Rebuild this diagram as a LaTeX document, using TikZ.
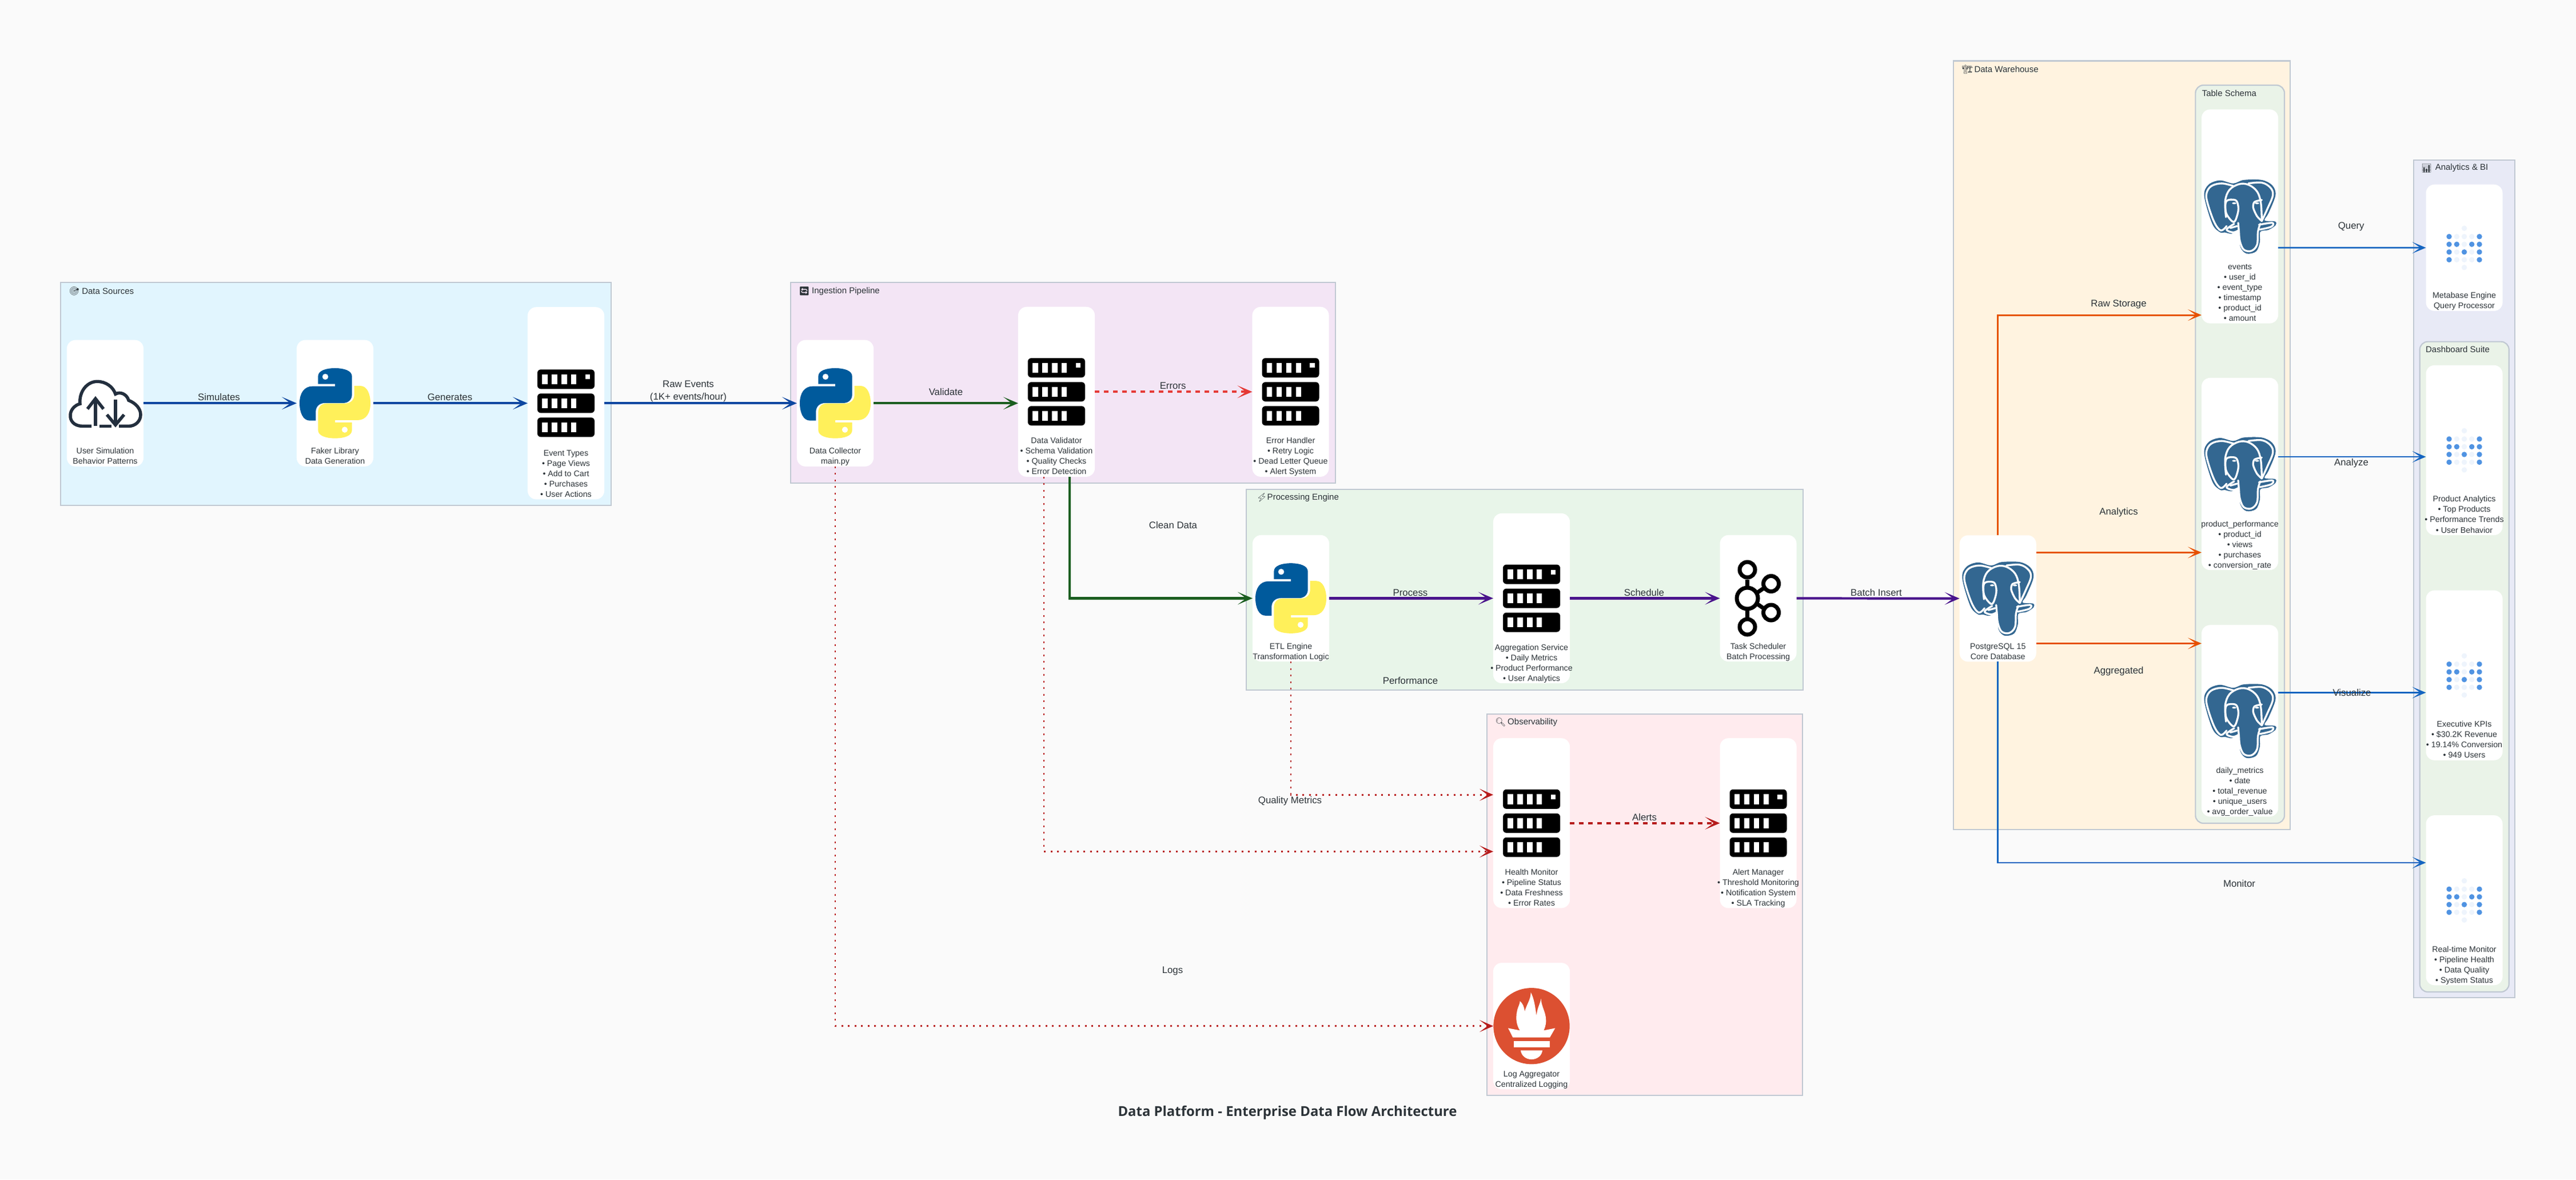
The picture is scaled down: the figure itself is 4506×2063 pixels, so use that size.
\documentclass[tikz,border=0pt]{standalone}
\usepackage{fontspec}
\setmainfont{Liberation Sans}
\newfontfamily\emojifont{Noto Emoji}
\newfontfamily\titlefont{Open Sans}
\usetikzlibrary{arrows.meta}
\definecolor{pagebg}{HTML}{FAFAFA}
\definecolor{srcbg}{HTML}{E1F5FE}
\definecolor{ingestbg}{HTML}{F3E5F5}
\definecolor{procbg}{HTML}{E8F5E9}
\definecolor{obsbg}{HTML}{FFEBEE}
\definecolor{dwhbg}{HTML}{FFF3E0}
\definecolor{bibg}{HTML}{E8EAF6}
\definecolor{innerbg}{HTML}{EAF3E8}
\definecolor{groupline}{HTML}{C0C8D2}
\definecolor{inktext}{HTML}{2C3338}
\definecolor{flowblue}{HTML}{0D47A1}
\definecolor{flowgreen}{HTML}{1B5E20}
\definecolor{flowpurple}{HTML}{4A148C}
\definecolor{flowred}{HTML}{E53935}
\definecolor{flowdark}{HTML}{B71C1C}
\definecolor{floworange}{HTML}{E65100}
\definecolor{flowquery}{HTML}{1565C0}
\definecolor{pyblue}{HTML}{005A9C}
\definecolor{pyyellow}{HTML}{FFF05A}
\definecolor{pgblue}{HTML}{336791}
\definecolor{promred}{HTML}{DC5031}
\definecolor{mbdark}{HTML}{5093E2}
\definecolor{mbpale}{HTML}{EEF4FC}
\definecolor{cloudink}{HTML}{232F3E}
\newcommand\cardfont{\fontsize{4.05pt}{5.12pt}\selectfont}
\newcommand\flowfont{\fontsize{4.78pt}{6.35pt}\selectfont}
\newcommand\groupfont{\fontsize{4.27pt}{5.2pt}\selectfont}
\tikzset{
  groupbox/.style={draw=groupline, line width=0.022cm},
  innergroup/.style={draw=groupline, line width=0.022cm, fill=innerbg, rounded corners=0.14cm},
  card/.style={rectangle, rounded corners=0.15cm, fill=white, inner sep=0pt, outer sep=0pt, minimum width=1.34cm},
  cardtext/.style={anchor=base, align=center, inner sep=0pt, font=\cardfont, text=inktext},
  flowlabel/.style={align=center, inner sep=0pt, yshift=-0.015cm, font=\flowfont, text=inktext},
  grouptitle/.style={anchor=west, inner sep=0pt, font=\groupfont, text=inktext},
  bigtip/.style={-{Stealth[length=0.26cm,width=0.22cm,inset=0.15cm]}},
  thickflow/.style={bigtip, line width=0.042cm},
  thinflow/.style={-{Stealth[length=0.24cm,width=0.2cm,inset=0.14cm]}, line width=0.028cm},
  dashflow/.style={bigtip, line width=0.042cm, dash pattern=on 0.08cm off 0.08cm},
  dotflow/.style={-{Stealth[length=0.24cm,width=0.21cm,inset=0.14cm]}, draw=flowdark, line width=0.028cm, dash pattern=on 0.03cm off 0.085cm},
  serverpic/.pic={
    \fill[rounded corners=0.06cm] (-50,-59) rectangle (50,-25);
    \fill[rounded corners=0.06cm] (-50,-17) rectangle (50,17);
    \fill[rounded corners=0.06cm] (-50,25) rectangle (50,59);
    \fill[white] (-42,-50.7) rectangle (-32.5,-33.3);
    \fill[white] (-25,-50.7) rectangle (-15.5,-33.3);
    \fill[white] (-8,-50.7) rectangle (1.5,-33.3);
    \fill[white] (9,-50.7) rectangle (18,-33.3);
    \fill[white] (33.5,-50) rectangle (42,-42);
    \fill[white] (-42,-8.7) rectangle (-32.5,8.7);
    \fill[white] (-25,-8.7) rectangle (-15.5,8.7);
    \fill[white] (-8,-8.7) rectangle (1.5,8.7);
    \fill[white] (9,-8.7) rectangle (18,8.7);
    \fill[white] (-42,33.3) rectangle (-32.5,50.7);
    \fill[white] (-25,33.3) rectangle (-15.5,50.7);
    \fill[white] (-8,33.3) rectangle (1.5,50.7);
    \fill[white] (9,33.3) rectangle (18,50.7);
  },
  pysnake/.pic={
    \begin{scope}[scale=0.3333,shift={(-378,-406)}]
    \fill[even odd rule] (289,305) -- (378,305) -- (378,317) -- (260,317)
      .. controls (215,317) and (192,355) .. (192,405)
      .. controls (192,455) and (210,497) .. (245,497) -- (277,497) -- (277,450)
      .. controls (277,425) and (295,405) .. (325,405) -- (420,405)
      .. controls (450,405) and (467,385) .. (467,360) -- (467,265)
      .. controls (467,235) and (425,222) .. (378,222)
      .. controls (330,222) and (289,235) .. (289,265) -- cycle
      (327,267) circle (16);
    \end{scope}
  },
  pylogo/.pic={
    \pic[pyblue] {pysnake};
    \pic[pyyellow,rotate=180] {pysnake};
  },
  pglogo/.pic={
    \begin{scope}[scale=0.3333,shift={(-205,-211)}]
    \fill[pgblue] plot[smooth cycle,tension=0.55] coordinates {(100,294) (60,250) (18,105) (40,45) (100,22) (170,38) (225,20) (320,20) (375,48) (392,100) (355,195) (335,232) (390,238) (392,258) (355,282) (312,292) (310,345) (290,395) (240,406) (208,372) (200,292) (160,302) (125,295)};
    \begin{scope}[draw=white, line width=0.033cm, line cap=round, line join=round]
    \draw plot[smooth,tension=0.6] coordinates {(135,262) (105,285) (70,240) (35,140) (30,90) (55,52) (110,38) (172,52)};
    \draw plot[smooth,tension=0.6] coordinates {(132,215) (128,130) (150,72) (200,42) (250,45) (295,80) (315,140) (320,232)};
    \draw plot[smooth,tension=0.6] coordinates {(250,38) (320,34) (365,60) (378,100) (350,170) (320,235)};
    \draw plot[smooth cycle,tension=0.6] coordinates {(135,130) (180,125) (195,150) (195,190) (175,240) (145,215) (130,180)};
    \draw plot[smooth,tension=0.5] coordinates {(320,125) (282,135) (275,165) (295,210) (320,235)};
    \draw plot[smooth,tension=0.6] coordinates {(196,245) (200,290) (205,340) (225,385) (265,392) (295,360) (300,290) (312,250)};
    \draw plot[smooth,tension=0.6] coordinates {(175,250) (135,280) (170,295) (200,283)};
    \draw plot[smooth,tension=0.6] coordinates {(155,272) (190,262)};
    \draw plot[smooth,tension=0.6] coordinates {(305,255) (375,245) (370,265) (310,280)};
    \end{scope}
    \fill[white] (175,142) ellipse (11 and 5);
    \fill[white] (295,142) ellipse (11 and 5);
    \end{scope}
  },
  kafkapic/.pic={
    \begin{scope}[draw=black, line width=0.07cm]
    \draw (-19,-50) circle (13.5);
    \draw (-19,0) circle (18.5);
    \draw (-19,50) circle (13.5);
    \draw (22.5,-25.5) circle (13.5);
    \draw (22.5,25) circle (13.5);
    \draw (-19,-33) -- (-19,-20);
    \draw (-19,33) -- (-19,20);
    \draw (-3,-9) -- (10,-18);
    \draw (-3,9) -- (10,18);
    \end{scope}
  },
  cloudpic/.pic={
    \begin{scope}[draw=cloudink, line width=0.055cm]
    \draw (-24,40) -- (-40,40) .. controls (-55,40) and (-62,30) .. (-61,20)
      .. controls (-60,10) and (-52,3) .. (-44,1)
      .. controls (-46,-20) and (-32,-38) .. (-14,-38)
      .. controls (2,-38) and (14,-28) .. (18,-16)
      .. controls (26,-21) and (38,-16) .. (41,-5)
      .. controls (54,0) and (62,10) .. (62,20)
      .. controls (62,32) and (52,40) .. (42,40) -- (24,40);
    \draw (-10,40) -- (11,40);
    \draw (-17,40) -- (-17,-6);
    \draw (-31,10) -- (-17,-8) -- (-3,10);
    \draw (18,-6) -- (18,36);
    \draw (3,20) -- (18,38) -- (33,20);
    \end{scope}
  },
  prompic/.pic={
    \begin{scope}[scale=0.3333,shift={(-266,-374)}]
    \fill[promred] (266,374) circle (200);
    \fill[white] (143,385) -- (205,397) .. controls (190,375) and (180,340) .. (190,295)
      .. controls (195,270) and (205,260) .. (205,243)
      .. controls (220,255) and (228,275) .. (230,298)
      .. controls (240,260) and (262,235) .. (262,197)
      .. controls (280,230) and (285,275) .. (292,320)
      .. controls (295,280) and (310,260) .. (316,230)
      .. controls (316,270) and (342,300) .. (342,345)
      .. controls (342,370) and (335,385) .. (330,397) -- (390,385) -- (362,434) -- (168,434) -- cycle;
    \fill[white] (172,452) rectangle (361,486);
    \fill[white] (209,502) -- (323,502) .. controls (320,530) and (295,549) .. (266,549) .. controls (237,549) and (212,530) .. (209,502) -- cycle;
    \end{scope}
  },
  metapic/.pic={
    \fill[mbpale] (0,-34) circle (4.7);
    \fill[mbdark] (-26.5,-19.5) circle (4.7);
    \fill[mbpale] (-13.2,-19.5) circle (4.7);
    \fill[mbpale] (0,-19.5) circle (4.7);
    \fill[mbpale] (13.2,-19.5) circle (4.7);
    \fill[mbdark] (26.5,-19.5) circle (4.7);
    \fill[mbdark] (-26.5,-6) circle (4.7);
    \fill[mbdark] (-13.2,-6) circle (4.7);
    \fill[mbpale] (0,-6) circle (4.7);
    \fill[mbdark] (13.2,-6) circle (4.7);
    \fill[mbdark] (26.5,-6) circle (4.7);
    \fill[mbdark] (-26.5,7.5) circle (4.7);
    \fill[mbpale] (-13.2,7.5) circle (4.7);
    \fill[mbdark] (0,7.5) circle (4.7);
    \fill[mbpale] (13.2,7.5) circle (4.7);
    \fill[mbdark] (26.5,7.5) circle (4.7);
    \fill[mbdark] (-26.5,21) circle (4.7);
    \fill[mbpale] (-13.2,21) circle (4.7);
    \fill[mbpale] (0,21) circle (4.7);
    \fill[mbpale] (13.2,21) circle (4.7);
    \fill[mbdark] (26.5,21) circle (4.7);
    \fill[mbpale] (0,34.5) circle (4.7);
  }
}
\begin{document}
\begin{tikzpicture}[x=0.01cm,y=-0.01cm]
\useasboundingbox (0,0) rectangle (4506,2063);
\fill[pagebg] (0,0) rectangle (4506,2063);
% groups
\draw[groupbox,fill=srcbg] (106,494) rectangle (1068.6,884);
\draw[groupbox,fill=ingestbg] (1382.8,494.3) rectangle (2335.6,845.3);
\draw[groupbox,fill=procbg] (2180.3,855.7) rectangle (3153.7,1206.7);
\draw[groupbox,fill=obsbg] (2601,1249) rectangle (3153,1916);
\draw[groupbox,fill=dwhbg] (3416.6,106.5) rectangle (4006.3,1450.7);
\draw[groupbox,fill=bibg] (4221.7,280) rectangle (4399.3,1745);
\draw[innergroup] (3840.3,149) rectangle (3996,1440);
\draw[innergroup] (4232.7,597.6) rectangle (4388.7,1735);
\node[grouptitle] (srcicon) at (120,509.3) {\emojifont 🎯};
\node[grouptitle] (srctitle) at (142.6,509.3) {Data Sources};
\node[grouptitle] (ingesticon) at (1396.6,509.3) {\emojifont 🔄};
\node[grouptitle] (ingesttitle) at (1419.5,509.3) {Ingestion Pipeline};
\node[grouptitle] (procicon) at (2197,870.7) {\emojifont ⚡};
\node[grouptitle] (proctitle) at (2216,870.7) {Processing Engine};
\node[grouptitle] (obsicon) at (2614.7,1263.5) {\emojifont 🔍};
\node[grouptitle] (obstitle) at (2636.5,1263.5) {Observability};
\node[grouptitle] (dwhicon) at (3431.3,121.4) {\emojifont 🏗};
\node[grouptitle] (dwhtitle) at (3452.8,121.4) {Data Warehouse};
\node[grouptitle] (schematitle) at (3851,163.5) {Table Schema};
\node[grouptitle] (biicon) at (4234.3,294) {\emojifont 📊};
\node[grouptitle] (bititle) at (4259,294) {Analytics \& BI};
\node[grouptitle] (suitetitle) at (4242.3,610.8) {Dashboard Suite};
% cards
\node[card,minimum height=2.21cm] (usersim) at (184,705.3) {};
\node[card,minimum height=2.21cm] (faker) at (586,705.3) {};
\node[card,minimum height=3.36cm] (eventtypes) at (990,705.3) {};
\node[card,minimum height=2.21cm] (collector) at (1461,705.3) {};
\node[card,minimum height=2.97cm] (validator) at (1848,685.3) {};
\node[card,minimum height=2.97cm] (errhandler) at (2257.5,685.3) {};
\node[card,minimum height=2.21cm] (etl) at (2258,1046.5) {};
\node[card,minimum height=2.97cm] (aggregation) at (2679,1046.5) {};
\node[card,minimum height=2.21cm] (scheduler) at (3075.5,1046.5) {};
\node[card,minimum height=2.97cm] (health) at (2679,1439.8) {};
\node[card,minimum height=2.97cm] (alertmgr) at (3075.5,1439.8) {};
\node[card,minimum height=2.21cm] (logagg) at (2679,1794.7) {};
\node[card,minimum height=2.21cm] (pgcore) at (3494.7,1046.8) {};
\node[card,minimum height=3.74cm] (events) at (3918,378.5) {};
\node[card,minimum height=3.36cm] (prodperf) at (3918,829) {};
\node[card,minimum height=3.35cm] (dailymetrics) at (3918,1260.8) {};
\node[card,minimum height=2.21cm] (metabase) at (4310.5,433.3) {};
\node[card,minimum height=2.97cm] (prodanalytics) at (4310.5,787.4) {};
\node[card,minimum height=2.97cm] (kpis) at (4310.5,1181.2) {};
\node[card,minimum height=2.97cm] (realtime) at (4310.5,1574.7) {};
% icons
\pic at (usersim.center) {cloudpic};
\pic at (faker.center) {pylogo};
\pic at (eventtypes.center) {serverpic};
\pic at (collector.center) {pylogo};
\pic at (validator.center) {serverpic};
\pic at (errhandler.center) {serverpic};
\pic at (etl.center) {pylogo};
\pic at (aggregation.center) {serverpic};
\pic at (scheduler.center) {kafkapic};
\pic at (health.center) {serverpic};
\pic at (alertmgr.center) {serverpic};
\pic at (logagg.center) {prompic};
\pic at (pgcore.center) {pglogo};
\pic at (events.center) {pglogo};
\pic at (prodperf.center) {pglogo};
\pic at (dailymetrics.center) {pglogo};
\pic at (metabase.center) {metapic};
\pic at (prodanalytics.center) {metapic};
\pic at (kpis.center) {metapic};
\pic at (realtime.center) {metapic};
% card texts
\node[cardtext] (usersimtxt) at ([yshift=0.04cm]usersim.south) {User Simulation\\Behavior Patterns};
\node[cardtext] (fakertxt) at ([yshift=0.04cm]faker.south) {Faker Library\\Data Generation};
\node[cardtext] (eventtxt) at ([yshift=0.04cm]eventtypes.south) {Event Types\\• Page Views\\• Add to Cart\\• Purchases\\• User Actions};
\node[cardtext] (collectortxt) at ([yshift=0.04cm]collector.south) {Data Collector\\main.py};
\node[cardtext] (validatortxt) at ([yshift=0.04cm]validator.south) {Data Validator\\• Schema Validation\\• Quality Checks\\• Error Detection};
\node[cardtext] (errtxt) at ([yshift=0.04cm]errhandler.south) {Error Handler\\• Retry Logic\\• Dead Letter Queue\\• Alert System};
\node[cardtext] (etltxt) at ([yshift=0.04cm]etl.south) {ETL Engine\\Transformation Logic};
\node[cardtext] (aggtxt) at ([yshift=0.04cm]aggregation.south) {Aggregation Service\\• Daily Metrics\\• Product Performance\\• User Analytics};
\node[cardtext] (schedtxt) at ([yshift=0.04cm]scheduler.south) {Task Scheduler\\Batch Processing};
\node[cardtext] (healthtxt) at ([yshift=0.04cm]health.south) {Health Monitor\\• Pipeline Status\\• Data Freshness\\• Error Rates};
\node[cardtext] (alerttxt) at ([yshift=0.04cm]alertmgr.south) {Alert Manager\\• Threshold Monitoring\\• Notification System\\• SLA Tracking};
\node[cardtext] (logtxt) at ([yshift=0.04cm]logagg.south) {Log Aggregator\\Centralized Logging};
\node[cardtext] (pgtxt) at ([yshift=0.04cm]pgcore.south) {PostgreSQL 15\\Core Database};
\node[cardtext] (eventstxt) at ([yshift=0.04cm]events.south) {events\\• user\_id\\• event\_type\\• timestamp\\• product\_id\\• amount};
\node[cardtext] (prodtxt) at ([yshift=0.04cm]prodperf.south) {product\_performance\\• product\_id\\• views\\• purchases\\• conversion\_rate};
\node[cardtext] (dailytxt) at ([yshift=0.04cm]dailymetrics.south) {daily\_metrics\\• date\\• total\_revenue\\• unique\_users\\• avg\_order\_value};
\node[cardtext] (metatxt) at ([yshift=0.04cm]metabase.south) {Metabase Engine\\Query Processor};
\node[cardtext] (analyticstxt) at ([yshift=0.04cm]prodanalytics.south) {Product Analytics\\• Top Products\\• Performance Trends\\• User Behavior};
\node[cardtext] (kpitxt) at ([yshift=0.04cm]kpis.south) {Executive KPIs\\• \$30.2K Revenue\\• 19.14\% Conversion\\• 949 Users};
\node[cardtext] (realtimetxt) at ([yshift=0.04cm]realtime.south) {Real-time Monitor\\• Pipeline Health\\• Data Quality\\• System Status};
% connectors
\draw[thickflow,flowblue] (usersim.east) -- (faker.west);
\draw[thickflow,flowblue] (faker.east) -- (eventtypes.west);
\draw[thickflow,flowblue] (eventtypes.east) -- (collector.west);
\draw[thickflow,flowgreen] (collector.east) -- (collector.east -| validator.west);
\draw[dashflow,flowred] (validator.east) -- (errhandler.west);
\draw[thickflow,flowgreen] ([xshift=0.23cm]validator.south) |- (etl.west);
\draw[thickflow,flowpurple] (etl.east) -- (aggregation.west);
\draw[thickflow,flowpurple] (aggregation.east) -- (scheduler.west);
\draw[thickflow,flowpurple] (scheduler.east) -- (pgcore.west);
\draw[thinflow,floworange] (pgcore.north) |- ([yshift=-1.725cm]events.west);
\draw[thinflow,floworange] ([yshift=0.804cm]pgcore.east) -- ([yshift=0.804cm]pgcore.east -| prodperf.west);
\draw[thinflow,floworange] ([yshift=-0.786cm]pgcore.east) -- ([yshift=-0.786cm]pgcore.east -| dailymetrics.west);
\draw[thinflow,flowquery] ([yshift=-0.548cm]events.east) -- (metabase.west);
\draw[thinflow,flowquery] ([yshift=0.3cm]prodperf.east) -- ([yshift=0.3cm]prodperf.east -| prodanalytics.west);
\draw[thinflow,flowquery] ([yshift=0.493cm]dailymetrics.east) -- ([yshift=0.493cm]dailymetrics.east -| kpis.west);
\draw[thinflow,flowquery] (pgcore.south) |- ([yshift=0.657cm]realtime.west);
\draw[dashflow,flowdark] (health.east) -- (alertmgr.west);
\draw[dotflow] (etl.south) |- ([yshift=0.496cm]health.west);
\draw[dotflow] ([xshift=-0.22cm]validator.south) |- ([yshift=-0.496cm]health.west);
\draw[dotflow] (collector.south) |- (logagg.west);
% labels
\node[flowlabel] (simlabel) at (383,693.3) {Simulates};
\node[flowlabel] (genlabel) at (787,693.3) {Generates};
\node[flowlabel] (rawlabel) at (1204,683) {Raw Events\\(1K+ events/hour)};
\node[flowlabel] (validlabel) at (1654.5,684) {Validate};
\node[flowlabel] (errlabel) at (2051.6,673.7) {Errors};
\node[flowlabel] (cleanlabel) at (2052,917.3) {Clean Data};
\node[flowlabel] (proclabel) at (2467,1035) {Process};
\node[flowlabel] (schedlabel) at (2876,1035) {Schedule};
\node[flowlabel] (perflabel) at (2467,1189) {Performance};
\node[flowlabel] (batchlabel) at (3282,1034.6) {Batch Insert};
\node[flowlabel] (qualitylabel) at (2256.5,1400) {Quality Metrics};
\node[flowlabel] (alertlabel) at (2876.5,1428) {Alerts};
\node[flowlabel] (logslabel) at (2051,1696.5) {Logs};
\node[flowlabel] (storagelabel) at (3706,531) {Raw Storage};
\node[flowlabel] (analyticslabel) at (3706,894.7) {Analytics};
\node[flowlabel] (aggrlabel) at (3706,1173) {Aggregated};
\node[flowlabel] (querylabel) at (4112.7,395) {Query};
\node[flowlabel] (analyzelabel) at (4113,809) {Analyze};
\node[flowlabel] (vizlabel) at (4114,1209.5) {Visualize};
\node[flowlabel] (monitorlabel) at (3917,1544) {Monitor};
\node[inner sep=0pt,font=\titlefont\bfseries\fontsize{6.8pt}{8pt}\selectfont,text=inktext] (charttitle) at (2252,1946) {Data Platform - Enterprise Data Flow Architecture};
\end{tikzpicture}
\end{document}
